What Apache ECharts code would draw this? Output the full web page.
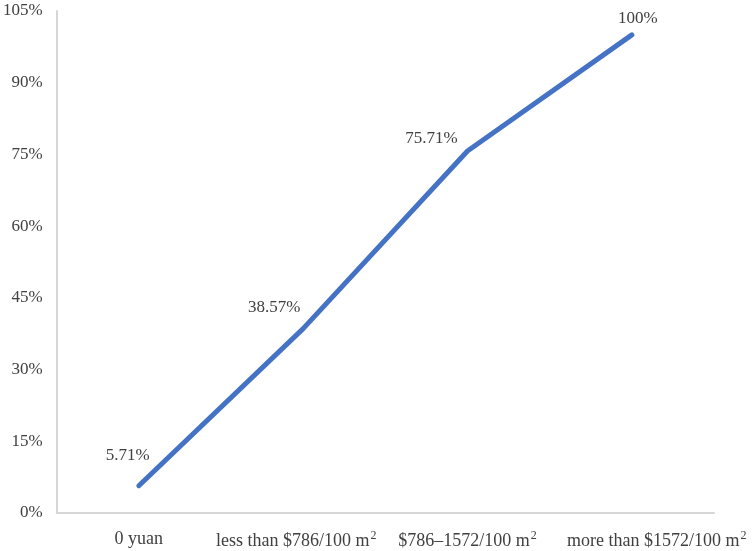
<!DOCTYPE html>
<html><head><meta charset="utf-8">
<script src="https://cdn.jsdelivr.net/npm/echarts@6/dist/echarts.min.js"></script>
<style>html,body{margin:0;padding:0;background:#fff}#c{width:755px;height:551px}</style>
</head><body><div id="c"></div>
<script>
const categories = ['0 yuan', 'less than $786/100 m²', '$786–1572/100 m²', 'more than $1572/100 m²'];
const shares = [5.71, 38.57, 75.71, 100];
const yTicks = [0, 15, 30, 45, 60, 75, 90, 105];

const labelOffsets = [[-11, -30], [-29, -21], [-36, -13], [6, -16]];
const font = '"Liberation Serif", "DejaVu Serif", serif';
const txt = '#404040';

const chart = echarts.init(document.getElementById('c'));
chart.setOption({
  animation: false,
  grid: {left: 56, right: 41, top: 11, bottom: 38},
  xAxis: {
    type: 'category', data: categories, boundaryGap: true,
    axisLine: {lineStyle: {color: '#d6d6d6', width: 2}},
    axisTick: {show: false},
    axisLabel: {
      color: txt, fontFamily: font, fontSize: 18, margin: 17, interval: 0,
      formatter: function (v, i) {
        const s = v.endsWith('m²') ? '{t|' + v.slice(0, -1) + '}{sup|2}' : '{t|' + v + '}';
        if (i === categories.length - 1) return '{padl|}' + s;
        if (i === 1) return s + '{padr|}';
        return s;
      },
      rich: {
        t: {fontSize: 18, color: txt, fontFamily: font},
        padl: {width: 50},
        padr: {width: 14},
        sup: {fontSize: 12, verticalAlign: 'top', padding: [0, 0, 10, 1], color: txt, fontFamily: font}
      }
    }
  },
  yAxis: {
    type: 'value', min: yTicks[0], max: yTicks[yTicks.length - 1], interval: 15,
    axisLine: {show: true, lineStyle: {color: '#d6d6d6', width: 2}},
    axisTick: {show: false},
    splitLine: {show: false},
    axisLabel: {color: txt, fontFamily: font, fontSize: 17, margin: 14, formatter: '{value}%'}
  },
  series: [{
    type: 'line',
    data: shares.map((v, i) => ({value: v, label: {offset: labelOffsets[i]}})),
    symbol: 'circle', symbolSize: 1, showSymbol: true,
    itemStyle: {color: 'rgba(0,0,0,0)'},
    lineStyle: {color: '#4472C4', width: 5, cap: 'round', join: 'round'},
    label: {show: true, position: 'inside', align: 'center', verticalAlign: 'middle',
      color: txt, fontFamily: font, fontSize: 17,
      formatter: p => p.value + '%'}
  }]
});
</script></body></html>
